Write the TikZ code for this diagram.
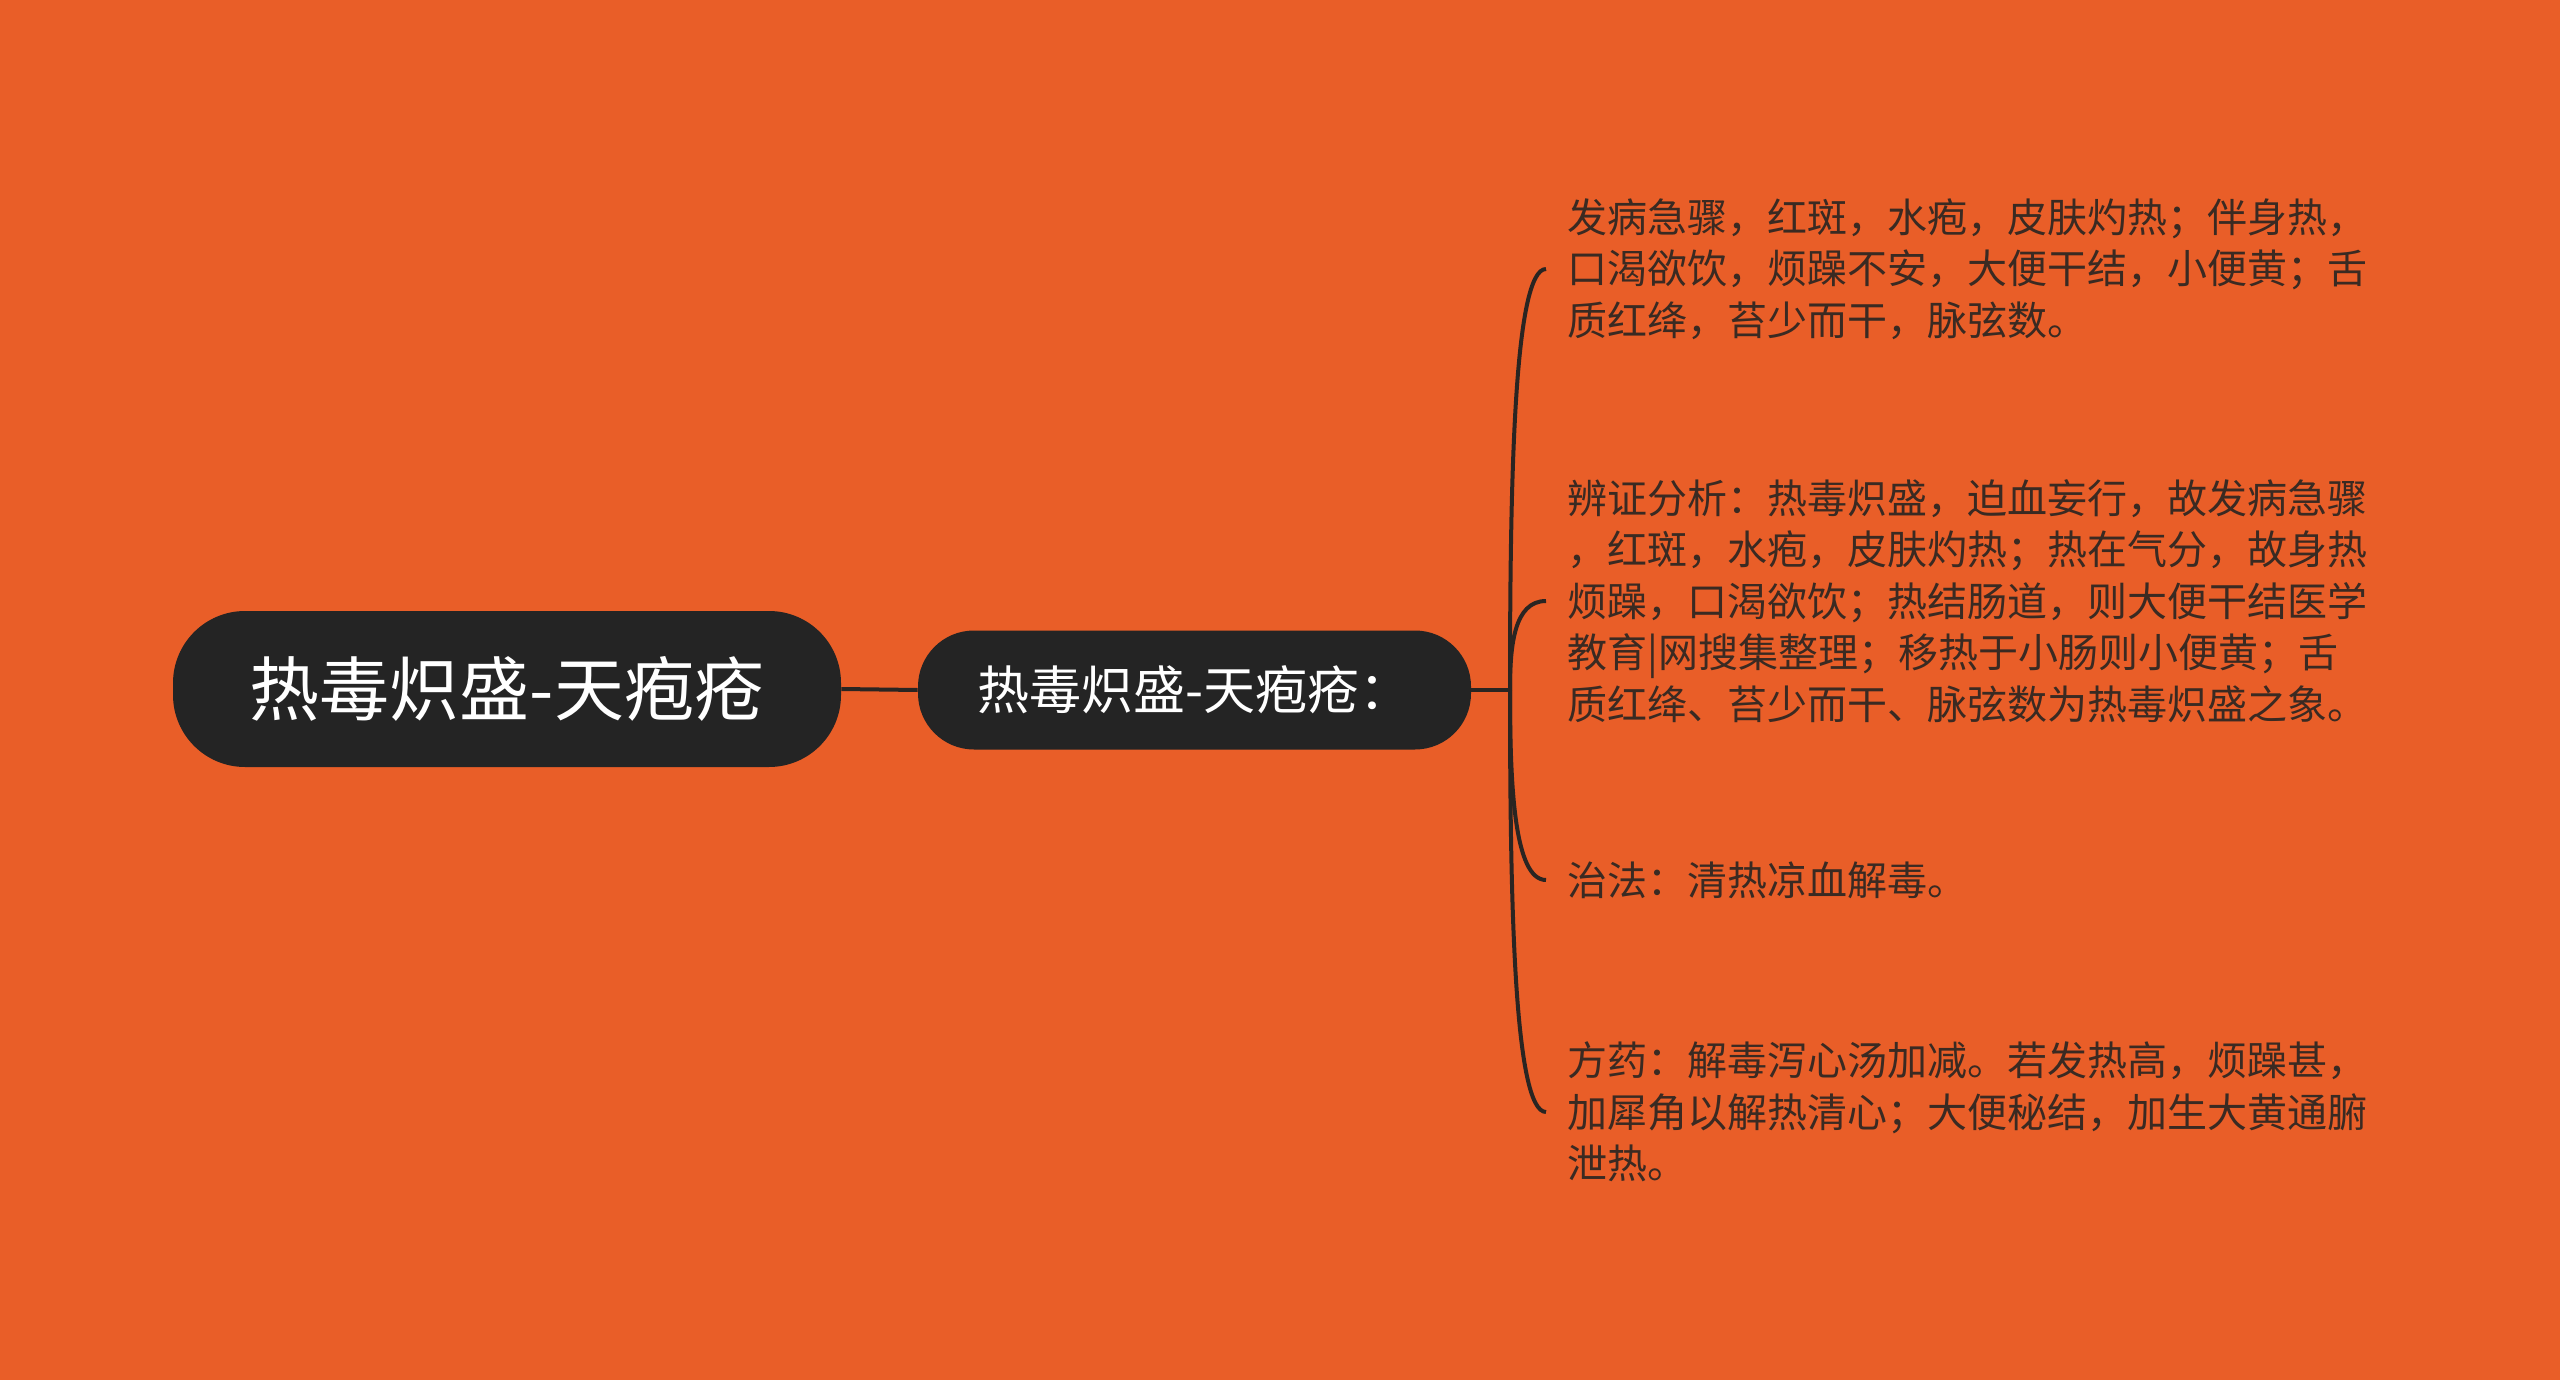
\documentclass[tikz,border=0pt]{standalone}
\usepackage{fontspec}
\setmainfont{Noto Sans CJK SC}
\definecolor{bgc}{HTML}{E95E28}
\definecolor{pillc}{HTML}{242424}
\definecolor{txtc}{HTML}{3A2A22}
\definecolor{lnc}{HTML}{2A2522}
\begin{document}
\begin{tikzpicture}[x=0.5pt,y=-0.5pt,
  rootbox/.style={fill=pillc, text=white, rounded corners=36pt, inner sep=0pt,
    minimum width=334pt, minimum height=78pt, font=\fontsize{35}{40}\selectfont},
  midbox/.style={fill=pillc, text=white, rounded corners=28pt, inner sep=0pt,
    minimum width=276.5pt, minimum height=59.5pt, font=\fontsize{26}{30}\selectfont},
  leaf/.style={anchor=west, text=txtc, align=left, inner xsep=10.5pt, inner ysep=0pt,
    font=\fontsize{20}{25.75}\selectfont},
  conn/.style={draw=lnc, line width=2pt}]
\fill[bgc] (0,0) rectangle (2560,1380);
\useasboundingbox (0,0) rectangle (2560,1380);

\node[rootbox] (root) at (507,689) {热毒炽盛-天疱疮};
\node[midbox] (mid) at (1194.5,690) {热毒炽盛-天疱疮：};
\coordinate (J) at (1510,690);

\node[leaf] (t1) at (1546,269) {发病急骤，红斑，水疱，皮肤灼热；伴身热，\\口渴欲饮，烦躁不安，大便干结，小便黄；舌\\质红绛，苔少而干，脉弦数。};
\node[leaf] (t2) at (1546,601) {辨证分析：热毒炽盛，迫血妄行，故发病急骤\\，红斑，水疱，皮肤灼热；热在气分，故身热\\烦躁，口渴欲饮；热结肠道，则大便干结医学\\教育|网搜集整理；移热于小肠则小便黄；舌\\质红绛、苔少而干、脉弦数为热毒炽盛之象。};
\node[leaf] (t3) at (1546,880) {治法：清热凉血解毒。};
\node[leaf] (t4) at (1546,1112) {方药：解毒泻心汤加减。若发热高，烦躁甚，\\加犀角以解热清心；大便秘结，加生大黄通腑\\泄热。};

\draw[conn] (root.east) -- (mid.west);
\draw[conn] (mid.east) -- (J);
\draw[conn] (J) .. controls (1510,479.5) and (1514,269) .. (t1.west);
\draw[conn] (J) .. controls (1510,645.5) and (1514,601) .. (t2.west);
\draw[conn] (J) .. controls (1510,785) and (1514,880) .. (t3.west);
\draw[conn] (J) .. controls (1510,901) and (1514,1112) .. (t4.west);
\end{tikzpicture}
\end{document}
